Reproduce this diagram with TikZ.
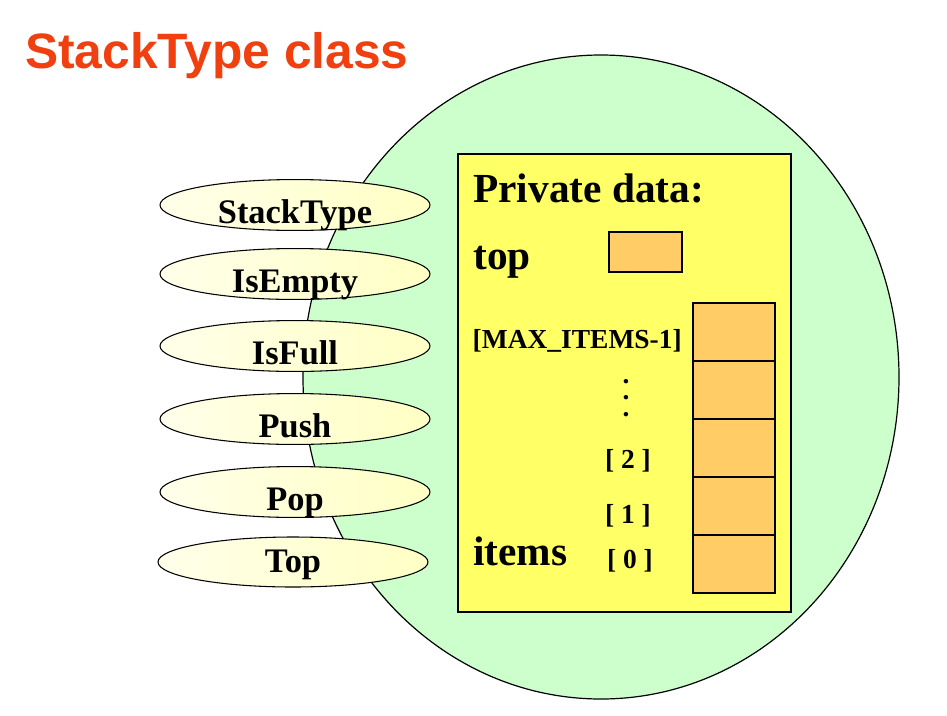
\documentclass[tikz,border=0pt]{standalone}
\usepackage{fontspec}
\setmainfont{Liberation Serif}
\newfontfamily\titlefont{Liberation Sans}
\usetikzlibrary{positioning,shapes.geometric}
\definecolor{clsgreen}{RGB}{204,255,204}
\definecolor{privyellow}{RGB}{255,255,102}
\definecolor{cellorange}{RGB}{255,204,102}
\definecolor{opyellow}{RGB}{255,255,196}
\definecolor{titlered}{RGB}{240,64,16}

\tikzset{
  op/.style={ellipse, draw, line width=0.8pt, left color=opyellow!35!white, right color=opyellow,
    minimum width=202.5pt, minimum height=37.5pt, inner sep=0pt,
    text height=27pt, text depth=0pt, font=\fontsize{25.8}{30}\selectfont\bfseries},
  cell/.style={draw, line width=0.9pt, fill=cellorange, minimum width=61.5pt,
    minimum height=43.5pt, inner sep=0pt, outer sep=0pt},
  bigtext/.style={font=\fontsize{31}{36}\selectfont\bfseries, inner sep=0pt},
  idx/.style={font=\fontsize{20.6}{24}\selectfont\bfseries, inner sep=0pt}
}

\begin{document}
\begin{tikzpicture}[x=0.75pt,y=-0.75pt]
\useasboundingbox (0,0) rectangle (947,715);

\node (title) [anchor=base west, inner sep=0pt, text=titlered,
  font=\titlefont\fontsize{37.3}{44}\selectfont\bfseries] at (25,68) {StackType class};

% class body
\node (cls) [ellipse, draw, line width=0.9pt, fill=clsgreen, minimum width=447pt,
  minimum height=483pt] at (601,377) {};
\node (priv) [draw, line width=0.9pt, fill=privyellow, minimum width=249.75pt,
  minimum height=343.5pt] at (624.5,383) {};

% operations
\node (stacktype) [op] at (295,205) {StackType};
\node (isempty)   [op] at (295,274) {IsEmpty};
\node (isfull)    [op, text depth=-1.5pt] at (295,346) {IsFull};
\node (push)      [op, text depth=-1.5pt] at (295,419) {Push};
\node (pop)       [op, text depth=-3pt] at (295,492) {Pop};
\node (top)       [op, text height=15pt] at (293,562) {Top};

% private data
\node (privlabel) [bigtext, anchor=base west] at (473,202) {Private data:};
\node (toplabel)  [bigtext, anchor=base west] at (473,269) {top};
\node (topbox)    [cell, minimum width=54.75pt, minimum height=30pt] at (645.5,252) {};
\node (itemslabel) [bigtext, anchor=base west] at (473,565) {items};

% items array
\node (cell0) [cell] at (734,564) {};
\foreach \i [remember=\i as \j (initially 0)] in {1,...,4}
  \node (cell\i) [cell, above=0pt of cell\j] {};

\node (idxmax) [idx, anchor=base east] at (682,348) {[MAX\_ITEMS-1]};
\foreach \y [count=\k] in {382,398,415}
  \node (dot\k) [idx] at (626,\y) {.};
\node (idx2)   [idx, anchor=base] at (628,468) {[ 2 ]};
\node (idx1)   [idx, anchor=base] at (628,523) {[ 1 ]};
\node (idx0)   [idx, anchor=base] at (630,568) {[ 0 ]};
\end{tikzpicture}
\end{document}
